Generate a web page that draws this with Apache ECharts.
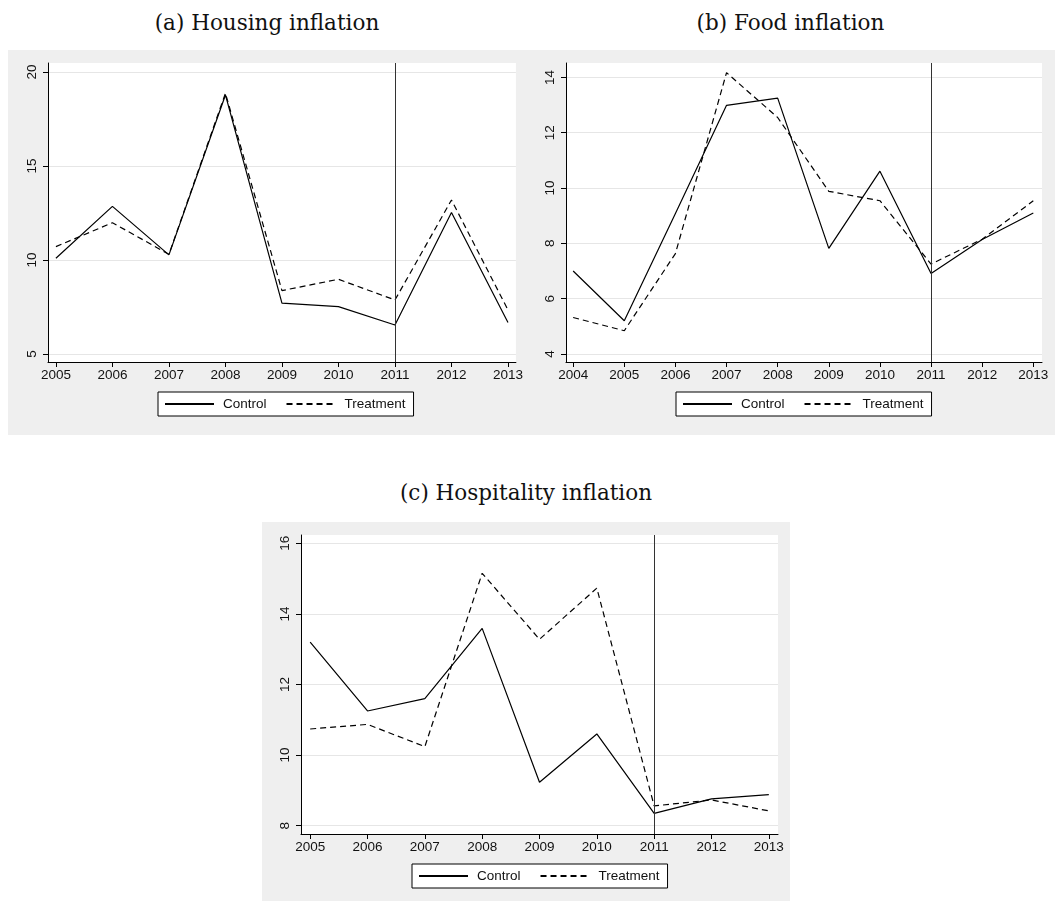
<!DOCTYPE html>
<html><head><meta charset="utf-8">
<script src="https://cdn.jsdelivr.net/npm/echarts@6/dist/echarts.min.js"></script>
<style>
body{margin:0;width:1055px;height:901px;background:#fff;position:relative;overflow:hidden;}
.t{position:absolute;font-family:"DejaVu Serif",serif;font-size:21.5px;line-height:24px;color:#111;text-align:center;white-space:nowrap}
.c{position:absolute;overflow:hidden}
</style></head><body>
<div class="t" style="left:8px;width:518px;top:11px">(a) Housing inflation</div>
<div class="t" style="left:526px;width:529px;top:11px">(b) Food inflation</div>
<div class="t" style="left:262px;width:528px;top:481px">(c) Hospitality inflation</div>
<div class="c" id="ca" style="left:8px;top:50px;width:518px;height:385px"></div>
<div class="c" id="cb" style="left:526px;top:50px;width:529px;height:385px"></div>
<div class="c" id="cc" style="left:262px;top:522px;width:528px;height:385px"></div>
<script>
// Panel (a) Housing inflation
var yearsA = [2005,2006,2007,2008,2009,2010,2011,2012,2013];
var housingControl   = [10.09,12.85,10.27,18.78,7.70,7.52,6.54,12.53,6.67];
var housingTreatment = [10.71,11.98,10.30,18.87,8.37,8.97,7.87,13.19,7.34];
var yTicksA = [5,10,15,20];
// Panel (b) Food inflation
var yearsB = [2004,2005,2006,2007,2008,2009,2010,2011,2012,2013];
var foodControl   = [7.00,5.20,9.08,12.99,13.25,7.82,10.61,6.91,8.14,9.10];
var foodTreatment = [5.32,4.84,7.63,14.17,12.55,9.88,9.54,7.25,8.15,9.54];
var yTicksB = [4,6,8,10,12,14];
// Panel (c) Hospitality inflation
var yearsC = [2005,2006,2007,2008,2009,2010,2011,2012,2013];
var hospControl   = [13.20,11.25,11.60,13.59,9.23,10.60,8.35,8.76,8.88];
var hospTreatment = [10.74,10.87,10.24,15.15,13.28,14.73,8.56,8.73,8.42];
var yTicksC = [8,10,12,14,16];
var treatYear = 2011;
var seriesNames = ['Control','Treatment'];

function pairs(xs, ys){ return xs.map(function(x,i){ return [x, ys[i]]; }); }

function makeOpt(c){
  var txt = {color:'#111', fontFamily:'Liberation Sans, Arial, sans-serif', fontSize:13.5};
  return {
    animation:false,
    backgroundColor:'#efefef',
    grid:{left:c.gl, top:13, right:c.gr, bottom:73, show:true, backgroundColor:'#ffffff', borderWidth:0},
    xAxis:{type:'value', min:c.xmin, max:c.xmax,
      axisLine:{onZero:false, lineStyle:{color:'#000', width:1}},
      axisTick:{show:true, customValues:c.years, length:5, lineStyle:{color:'#000'}},
      axisLabel:Object.assign({customValues:c.years, margin:6, hideOverlap:false, formatter:function(v){return String(v);}}, txt),
      splitLine:{show:false}},
    yAxis:{type:'value', min:c.ymin, max:c.ymax,
      axisLine:{show:true, onZero:false, lineStyle:{color:'#000', width:1}},
      axisTick:{show:true, customValues:c.yticks, length:5, lineStyle:{color:'#000'}},
      axisLabel:Object.assign({customValues:c.yticks, rotate:90, margin:9, hideOverlap:false}, txt),
      splitLine:{show:true, lineStyle:{color:'#e6e6e6', width:1}}},
    legend:{left:150, top:342, orient:'horizontal', itemWidth:49, itemHeight:12, itemGap:19,
      padding:[5,8,5,6], borderColor:'#000', borderWidth:1, backgroundColor:'#fff',
      itemStyle:{opacity:0, borderWidth:0},
      textStyle:Object.assign({padding:[0,0,0,4]}, txt), data:seriesNames},
    series:[
      {name:seriesNames[0], type:'line', symbol:'none', data:pairs(c.years, c.ctrl),
       lineStyle:{color:'#000', width:1.2, type:'solid'}, itemStyle:{color:'#000'},
       markLine:{silent:true, symbol:'none', label:{show:false}, lineStyle:{color:'#333', width:1, type:'solid'}, data:[{xAxis:treatYear}]}},
      {name:seriesNames[1], type:'line', symbol:'none', data:pairs(c.years, c.trt),
       lineStyle:{color:'#000', width:1.2, type:[6,4]}, itemStyle:{color:'#000'}}
    ]
  };
}
echarts.init(document.getElementById('ca')).setOption(makeOpt({gl:40, gr:3, xmin:2004.86, xmax:2013.14, ymin:4.57, ymax:20.48, years:yearsA, yticks:yTicksA, ctrl:housingControl, trt:housingTreatment}));
echarts.init(document.getElementById('cb')).setOption(makeOpt({gl:40, gr:13, xmin:2003.86, xmax:2013.17, ymin:3.71, ymax:14.52, years:yearsB, yticks:yTicksB, ctrl:foodControl, trt:foodTreatment}));
echarts.init(document.getElementById('cc')).setOption(makeOpt({gl:39, gr:12, xmin:2004.84, xmax:2013.16, ymin:7.765, ymax:16.235, years:yearsC, yticks:yTicksC, ctrl:hospControl, trt:hospTreatment}));
</script>
</body></html>
